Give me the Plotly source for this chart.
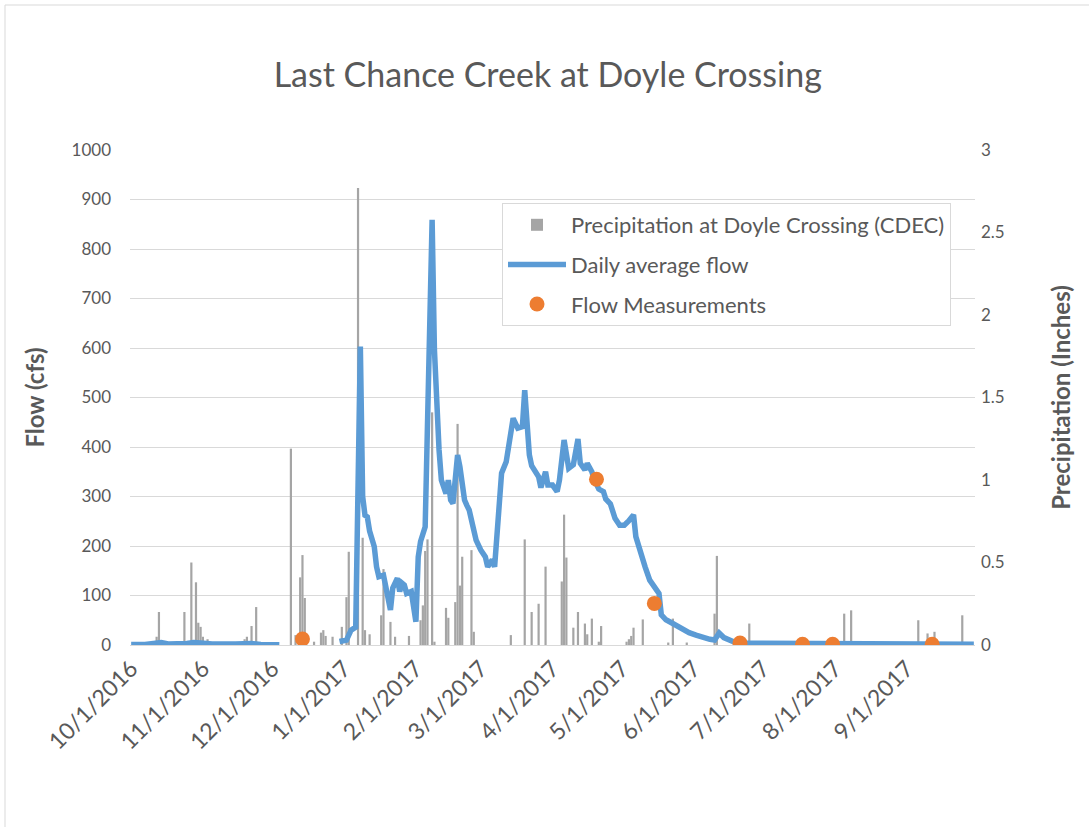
import plotly.graph_objects as go

# ---------------- data ----------------
precip_dates = [
    "2016-10-12", "2016-10-13", "2016-10-24", "2016-10-27", "2016-10-29", "2016-10-30",
    "2016-10-31", "2016-11-01", "2016-11-03", "2016-11-19", "2016-11-20", "2016-11-22",
    "2016-11-24", "2016-12-09", "2016-12-11", "2016-12-13", "2016-12-14", "2016-12-15",
    "2016-12-19", "2016-12-22", "2016-12-23", "2016-12-24", "2016-12-27", "2016-12-31",
    "2017-01-02", "2017-01-03", "2017-01-07", "2017-01-09", "2017-01-10", "2017-01-12",
    "2017-01-17", "2017-01-18", "2017-01-21", "2017-01-23", "2017-01-29", "2017-02-03",
    "2017-02-04", "2017-02-05", "2017-02-06", "2017-02-08", "2017-02-09", "2017-02-14",
    "2017-02-15", "2017-02-18", "2017-02-19", "2017-02-20", "2017-02-21", "2017-02-25",
    "2017-02-26", "2017-03-14", "2017-03-20", "2017-03-23", "2017-03-26", "2017-03-29",
    "2017-04-05", "2017-04-06", "2017-04-07", "2017-04-10", "2017-04-12", "2017-04-15",
    "2017-04-16", "2017-04-18", "2017-04-21", "2017-04-22", "2017-05-03", "2017-05-04",
    "2017-05-05", "2017-05-06", "2017-05-10", "2017-05-21", "2017-05-23", "2017-05-29",
    "2017-06-10", "2017-06-11", "2017-06-25", "2017-08-05", "2017-08-08", "2017-09-06",
    "2017-09-10", "2017-09-13", "2017-09-25",
]
precip_in = [
    0.05, 0.20, 0.20, 0.50, 0.38, 0.135,
    0.11, 0.05, 0.035, 0.035, 0.05, 0.115,
    0.23, 1.19, 0.06, 0.41, 0.545, 0.285,
    0.02, 0.075, 0.09, 0.055, 0.05, 0.11,
    0.29, 0.565, 2.77, 0.65, 0.09, 0.065,
    0.18, 0.46, 0.14, 0.05, 0.055, 0.15,
    0.24, 0.57, 0.64, 1.41, 0.02, 0.225,
    0.165, 0.26, 1.34, 0.36, 0.535, 0.575,
    0.08, 0.06, 0.64, 0.20, 0.25, 0.475,
    0.385, 0.79, 0.53, 0.105, 0.20, 0.13,
    0.065, 0.16, 0.02, 0.115, 0.02, 0.035,
    0.055, 0.105, 0.155, 0.015, 0.16, 0.015,
    0.19, 0.54, 0.13, 0.19, 0.21, 0.15,
    0.07, 0.08, 0.18,
]

flow_dates = [
    "2016-10-01", "2016-10-07", "2016-10-14", "2016-10-17", "2016-10-25", "2016-10-28",
    "2016-10-31", "2016-11-05", "2016-11-15", "2016-11-19", "2016-11-22", "2016-11-26",
    "2016-12-04", "2016-12-05",
    "2016-12-30", "2017-01-02", "2017-01-04", "2017-01-06", "2017-01-08", "2017-01-09",
    "2017-01-10", "2017-01-11", "2017-01-12", "2017-01-14", "2017-01-15", "2017-01-16",
    "2017-01-18", "2017-01-19", "2017-01-21", "2017-01-22", "2017-01-24", "2017-01-25",
    "2017-01-26", "2017-01-27", "2017-01-28", "2017-01-30", "2017-01-31", "2017-02-01",
    "2017-02-02", "2017-02-03", "2017-02-05", "2017-02-06", "2017-02-07", "2017-02-08",
    "2017-02-09", "2017-02-10", "2017-02-11", "2017-02-12", "2017-02-14", "2017-02-15",
    "2017-02-16", "2017-02-17", "2017-02-19", "2017-02-20", "2017-02-22", "2017-02-23",
    "2017-02-24", "2017-02-26", "2017-02-27", "2017-03-01", "2017-03-03", "2017-03-04",
    "2017-03-06", "2017-03-07", "2017-03-08", "2017-03-10", "2017-03-12", "2017-03-15",
    "2017-03-17", "2017-03-19", "2017-03-20", "2017-03-22", "2017-03-23", "2017-03-25",
    "2017-03-26", "2017-03-27", "2017-03-29", "2017-03-30", "2017-04-01", "2017-04-03",
    "2017-04-04", "2017-04-06", "2017-04-07", "2017-04-08", "2017-04-10", "2017-04-12",
    "2017-04-13", "2017-04-15", "2017-04-16", "2017-04-18", "2017-04-19", "2017-04-21",
    "2017-04-23", "2017-04-24", "2017-04-26", "2017-04-28", "2017-04-30", "2017-05-02",
    "2017-05-04", "2017-05-06", "2017-05-07", "2017-05-09", "2017-05-11", "2017-05-13",
    "2017-05-15", "2017-05-17", "2017-05-18", "2017-05-20", "2017-05-22", "2017-05-25",
    "2017-05-28", "2017-05-30", "2017-06-02", "2017-06-05", "2017-06-08", "2017-06-10",
    "2017-06-12", "2017-06-14", "2017-06-17", "2017-06-19", "2017-06-21", "2017-06-25",
    "2017-07-06", "2017-07-17", "2017-08-07", "2017-08-29", "2017-09-30",
]
flow_cfs = [
    1, 1, 5, 2, 3, 5,
    4, 2, 2, 4, 3, 1,
    0.5, None,
    7, 10, 30, 36, 603, 300,
    262, 259, 230, 199, 158, 138,
    141, 118, 71, 115, 135, 108,
    125, 121, 104, 108, 81, 47,
    178, 209, 239, 471, 596, 859,
    596, 475, 394, 333, 306, 333,
    293, 286, 384, 360, 293, 282,
    273, 232, 212, 192, 178, 158,
    172, 158, 230, 347, 370, 458,
    438, 441, 515, 384, 362, 350,
    340, 318, 350, 323, 323, 310,
    333, 414, 380, 357, 364, 416,
    367, 354, 367, 350, 335, 315,
    310, 295, 285, 256, 242, 242,
    251, 263, 219, 185, 158, 131,
    118, 104, 61, 51, 46, 38,
    30, 25, 20, 15, 11.5, 10,
    24, 15, 8, 5, 4, 4,
    2.5, 1.5, 1.5, 1.5, 1.5,
]

meas_dates = ["2016-12-14", "2017-04-20", "2017-05-15", "2017-06-21",
              "2017-07-18", "2017-07-31", "2017-09-12"]
meas_cfs = [12, 335, 84, 4, 1.5, 1.5, 1.5]

tick_dates = ["2016-10-01", "2016-11-01", "2016-12-01", "2017-01-01", "2017-02-01",
              "2017-03-01", "2017-04-01", "2017-05-01", "2017-06-01", "2017-07-01",
              "2017-08-01", "2017-09-01"]
tick_labels = ["10/1/2016", "11/1/2016", "12/1/2016", "1/1/2017", "2/1/2017",
               "3/1/2017", "4/1/2017", "5/1/2017", "6/1/2017", "7/1/2017",
               "8/1/2017", "9/1/2017"]

flow_ticks = [0, 100, 200, 300, 400, 500, 600, 700, 800, 900, 1000]
precip_ticks = [0, 0.5, 1, 1.5, 2, 2.5, 3]
precip_tick_text = ["0", "0.5", "1", "1.5", "2", "2.5", "3"]

# ---------------- figure ----------------
FONT = "Lato, 'Open Sans', sans-serif"
GREY = "#595959"
DAY_MS = 86400000

fig = go.Figure()
fig.add_trace(go.Bar(
    x=precip_dates, y=precip_in, name="Precipitation at Doyle Crossing (CDEC)",
    marker=dict(color="#a5a5a5", line=dict(width=0)), width=DAY_MS * 0.95,
    yaxis="y", legendgroup="p",
))
fig.add_trace(go.Scatter(
    x=flow_dates, y=flow_cfs, mode="lines", name="Daily average flow",
    line=dict(color="#5b9bd5", width=5.5), connectgaps=False,
    yaxis="y2", legendgroup="f",
))
fig.add_trace(go.Scatter(
    x=meas_dates, y=meas_cfs, mode="markers", name="Flow Measurements",
    marker=dict(color="#ed7d31", size=15, line=dict(width=0)),
    yaxis="y2", legendgroup="m",
))

L, R, T, B = 130, 114, 150, 182
W, H = 1089, 827
pw, ph = W - L - R, H - T - B

fig.update_layout(
    width=W, height=H, autosize=False,
    margin=dict(l=L, r=R, t=T, b=B),
    paper_bgcolor="white", plot_bgcolor="white",
    font=dict(family=FONT, color=GREY, size=17),
    title=dict(text="Last Chance Creek at Doyle Crossing", x=0.503, xref="container",
               xanchor="center", y=1 - 75 / H, yref="container", yanchor="middle",
               font=dict(family=FONT, size=34, color=GREY)),
    showlegend=True,
    legend=dict(x=(502 - L) / pw, y=(645 - 203) / ph, xanchor="left", yanchor="top",
                bgcolor="white", bordercolor="#d9d9d9", borderwidth=1,
                font=dict(family=FONT, size=22, color=GREY),
                traceorder="grouped", tracegroupgap=8, itemwidth=58),
    xaxis=dict(type="date", range=["2016-09-30 12:00", "2017-09-30 12:00"],
               tickmode="array", tickvals=tick_dates, ticktext=tick_labels,
               tickangle=-45, showgrid=False, zeroline=False, ticks="",
               showline=True, linecolor="#d9d9d9", linewidth=1,
               tickfont=dict(family=FONT, size=23, color=GREY)),
    yaxis=dict(range=[0, 3], side="right", tickmode="array", tickvals=precip_ticks,
               ticktext=precip_tick_text, showgrid=False, zeroline=False, ticks="",
               ticklabelstandoff=5,
               title=dict(text="<b>Precipitation (Inches)</b>", standoff=49,
                          font=dict(family=FONT, size=24, color=GREY)),
               tickfont=dict(family=FONT, size=17, color=GREY)),
    yaxis2=dict(range=[0, 1000], side="left", overlaying="y", tickmode="array",
                tickvals=flow_ticks, showgrid=True, gridcolor="#d9d9d9", gridwidth=1,
                zeroline=False, ticks="", ticklabelstandoff=18,
                title=dict(text="<b>Flow (cfs)</b>", standoff=20,
                           font=dict(family=FONT, size=24, color=GREY)),
                tickfont=dict(family=FONT, size=17, color=GREY)),
    shapes=[dict(type="rect", xref="paper", yref="paper",
                 x0=(5 - L) / pw, x1=(1100 - L) / pw,
                 y0=(645 - 840) / ph, y1=(645 - 5) / ph,
                 line=dict(color="#d9d9d9", width=1), fillcolor="rgba(0,0,0,0)",
                 layer="below")],
)

fig.write_html("out.html")
